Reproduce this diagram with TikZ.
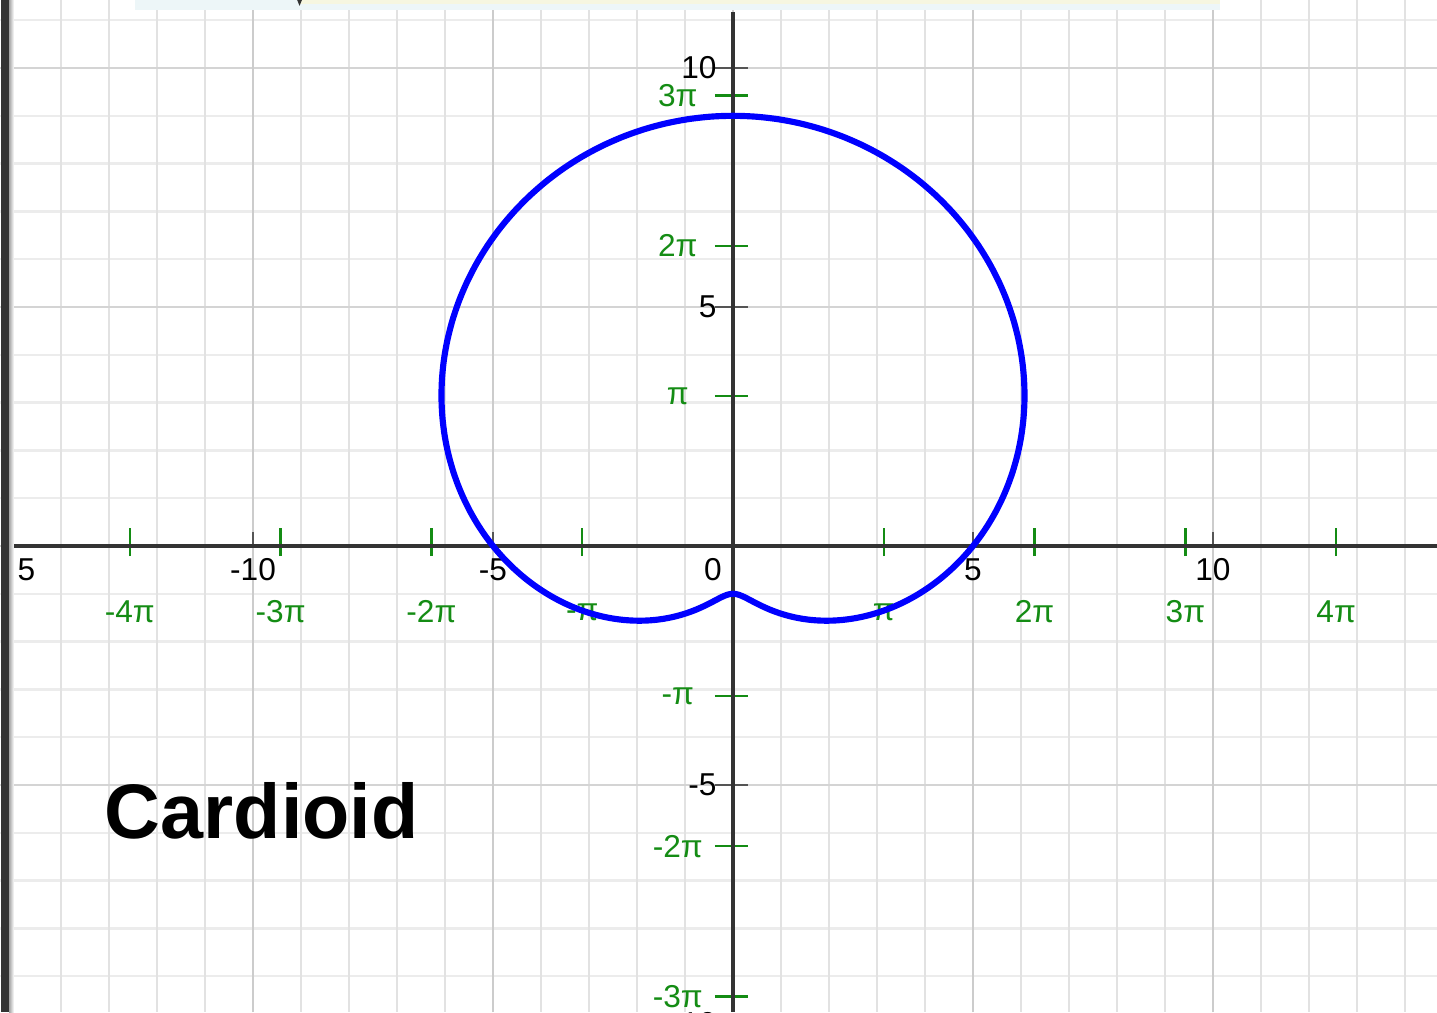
\documentclass[tikz,border=0pt]{standalone}
\usepackage{fontspec}
\setmainfont{Liberation Sans}
\usepackage{xcolor}
\usepackage{tikz}
\usetikzlibrary{arrows.meta}
\definecolor{vminor}{HTML}{E2E2E2}
\definecolor{hminor}{HTML}{ECECEC}
\definecolor{vmajor}{HTML}{CCCCCC}
\definecolor{hmajor}{HTML}{D4D4D4}
\definecolor{axisgray}{HTML}{333333}
\definecolor{tickgray}{HTML}{555555}
\definecolor{pigreen}{RGB}{20,140,20}
\definecolor{barcyan}{HTML}{EDF6F8}
\definecolor{baryellow}{HTML}{F6F6E0}

\begin{document}
\begin{tikzpicture}[x=0.48cm,y=0.478cm,
numlab/.style={inner sep=0pt,font=\fontsize{9}{10}\selectfont},
pilab/.style={inner sep=0pt,text=pigreen,font=\fontsize{9}{10}\selectfont},
pitick/.style={pigreen,line width=0.65pt},
numtick/.style={tickgray,line width=0.65pt},
cardioid/.style={blue,line width=1.75pt,line join=round}]
\useasboundingbox (-15.271,-9.749) rectangle (14.667,11.423);
\fill[white] (-15.271,-9.749) rectangle (14.667,11.423);
% grid
\draw[hminor,line width=0.7pt,xstep=100,ystep=1] (-15.271,-9.749) grid (14.667,11.423);
\draw[vminor,line width=0.7pt,xstep=1,ystep=100] (-15.271,-9.749) grid (14.667,11.423);
\draw[hmajor,line width=0.7pt,xstep=100,ystep=5] (-15.271,-9.749) grid (14.667,11.423);
\draw[vmajor,line width=0.7pt,xstep=5,ystep=100] (-15.271,-9.749) grid (14.667,11.423);
% ticks
\foreach \k in {-4,-3,-2,-1,1,2,3,4}
  \draw[pitick] ({\k*pi},-0.21)--({\k*pi},0.38);
\foreach \k in {-3,-2,-1,1,2,3}
  \draw[pitick] (-0.38,{\k*pi})--(0.31,{\k*pi});
\foreach \k in {-10,-5,5,10}
  \draw[numtick] (\k,0)--(\k,0.3);
\foreach \k in {-10,-5,5,10}
  \draw[numtick] (-0.38,\k)--(0.31,\k);
% axes
\coordinate (xleft) at (-15,0);
\coordinate (xright) at (14.667,0);
\coordinate (ytop) at (0,11.17);
\coordinate (ybottom) at (0,-9.749);
\draw[axisgray,line width=1pt] (xleft)--(xright);
\draw[axisgray,line width=1pt] (ytop)--(ybottom);
% number labels
\node[numlab,anchor=north] (xm15) at (-14.72,-0.25) {5};
\node[numlab,anchor=north] (xm10) at (-10,-0.25) {-10};
\node[numlab,anchor=north] (xm5) at (-5,-0.25) {-5};
\node[numlab,anchor=north] (x0) at (-0.42,-0.25) {0};
\node[numlab,anchor=north] (x5) at (5,-0.25) {5};
\node[numlab,anchor=north] (x10) at (10,-0.25) {10};
\node[numlab,anchor=east] (y10) at (-0.33,10) {10};
\node[numlab,anchor=east] (y5) at (-0.33,5) {5};
\node[numlab,anchor=east] (ym5) at (-0.33,-5) {-5};
\node[numlab,anchor=east] (ym10) at (-0.33,-10) {-10};
% pi labels
\node[pilab] (xpm4) at ({-4*pi},-1.38) {-4π};
\node[pilab] (xpm3) at ({-3*pi},-1.38) {-3π};
\node[pilab] (xpm2) at ({-2*pi},-1.38) {-2π};
\node[pilab] (xpm1) at ({-pi},-1.38) {-π};
\node[pilab] (xp1) at ({pi},-1.38) {π};
\node[pilab] (xp2) at ({2*pi},-1.38) {2π};
\node[pilab] (xp3) at ({3*pi},-1.38) {3π};
\node[pilab] (xp4) at ({4*pi},-1.38) {4π};
\node[pilab] (yp3) at (-1.15,{3*pi}) {3π};
\node[pilab] (yp2) at (-1.15,{2*pi}) {2π};
\node[pilab] (yp1) at (-1.15,{pi}) {π};
\node[pilab] (ypm1) at (-1.15,{-pi}) {-π};
\node[pilab] (ypm2) at (-1.15,{-2*pi}) {-2π};
\node[pilab] (ypm3) at (-1.15,{-3*pi}) {-3π};
% curve r = 5 + 4 sin t
\draw[cardioid] plot[domain=0:360,samples=241,smooth] ({(5+4*sin(\x))*cos(\x)},{(5+4*sin(\x))*sin(\x)});
\node[inner sep=0pt,anchor=base west,font=\fontsize{22}{24}\selectfont\bfseries] (title) at (-13.1,-6.11) {Cardioid};
% window edges
\fill[axisgray] (-15.25,-9.749) rectangle (-15.08,11.423);
\shade[left color=gray!70,right color=white] (-15.08,-9.749) rectangle (-14.98,11.423);
\fill[barcyan] (-12.458,11.213) rectangle (10.146,11.423);
\fill[baryellow] (-9.021,11.339) rectangle (10.146,11.423);
\fill[axisgray] (-9.08,11.423)--(-8.98,11.423)--(-9.03,11.3)--cycle;
\end{tikzpicture}
\end{document}
